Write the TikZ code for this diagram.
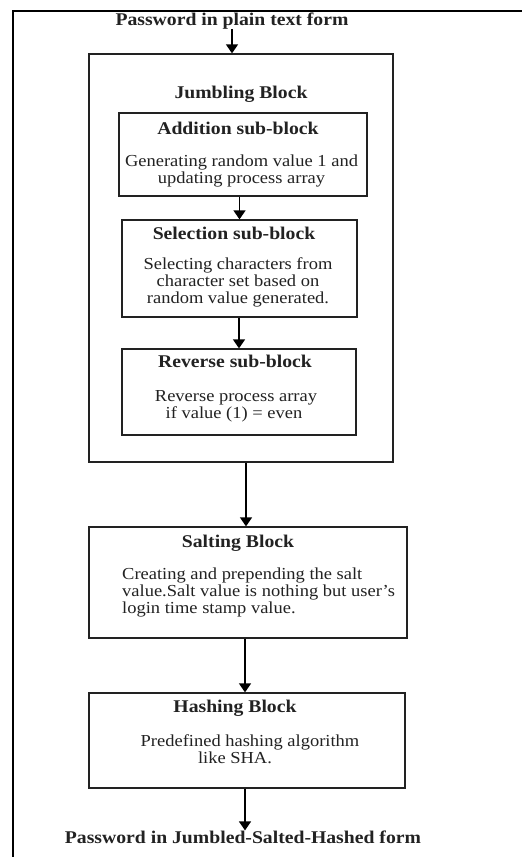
\documentclass[tikz,border=0pt]{standalone}
\usepackage{fontspec}
\setmainfont[FakeStretch=1.1]{Liberation Serif}
\usetikzlibrary{arrows.meta}
\definecolor{ink}{HTML}{222222}
\tikzset{
  blk/.style={draw=ink, line width=1.3pt, inner sep=0pt},
  ttl/.style={inner sep=0pt, font=\fontsize{17.9}{17}\selectfont\bfseries, text=ink},
  bdy/.style={inner sep=0pt, font=\fontsize{16.8}{17}\selectfont, text=ink, align=center},
  arr/.style={draw=black, line width=1.5pt, -{Triangle[width=12pt,length=9pt]}},
}
\begin{document}
\begin{tikzpicture}[x=1pt,y=-1pt]
\useasboundingbox (0,0) rectangle (522,857);
\fill[white] (0,0) rectangle (522,857);
% outer frame
\draw[line width=2.8pt, black] (13,858) -- (13,11) -- (523,11);

% input text
\node[ttl] (in) at (232,21) {Password in plain text form};

% jumbling block
\node[blk, minimum width=304pt, minimum height=408pt] (jumb) at (241,258) {};
\node[ttl] (jumbt) at (241,94) {Jumbling Block};

% addition
\node[blk, minimum width=248pt, minimum height=83pt] (add) at (243,154.5) {};
\node[ttl] (addt) at (238,128) {Addition sub-block};
\node[bdy] (addb) at (241.5,170.5) {Generating random value 1 and\\updating process array};

% selection
\node[blk, minimum width=235pt, minimum height=97pt] (sel) at (239.5,268.5) {};
\node[ttl] (selt) at (234,233) {Selection sub-block};
\node[bdy] (selb) at (238,282.5) {Selecting characters from\\character set based on\\random value generated.};

% reverse
\node[blk, minimum width=234pt, minimum height=86pt] (rev) at (239,392) {};
\node[ttl] (revt) at (235,361) {Reverse sub-block};
\node[bdy] (revb) at (236,406.5) {Reverse process array\\\hspace*{-4pt}if value (1) = even};

% salting
\node[blk, minimum width=318pt, minimum height=111pt] (salt) at (248,582.5) {};
\node[ttl] (saltt) at (238,543) {Salting Block};
\node[bdy, align=left, anchor=west] (saltb) at (122,592) {Creating and prepending the salt\\value.Salt value is nothing but user's\\login time stamp value.};

% hashing
\node[blk, minimum width=316pt, minimum height=95pt] (hash) at (247,740.5) {};
\node[ttl] (hasht) at (235,708) {Hashing Block};
\node[bdy] (hashb) at (250,749) {Predefined hashing algorithm\\like SHA.\hspace*{30pt}};

% output text
\node[ttl] (out) at (243,837) {Password in Jumbled-Salted-Hashed form};

% connector columns
\coordinate (c1) at (246,0);
\coordinate (c2) at (245,0);

% connectors
\draw[arr] (in.south) -- (in.south |- jumb.north);
\draw[arr] (sel.north |- add.south) -- (sel.north);
\draw[arr] (rev.north |- sel.south) -- (rev.north);
\draw[arr] (jumb.south -| c1) -- (salt.north -| c1);
\draw[arr] (salt.south -| c2) -- (hash.north -| c2);
\draw[arr] (hash.south -| c2) -- (out.north -| c2);
\end{tikzpicture}
\end{document}
